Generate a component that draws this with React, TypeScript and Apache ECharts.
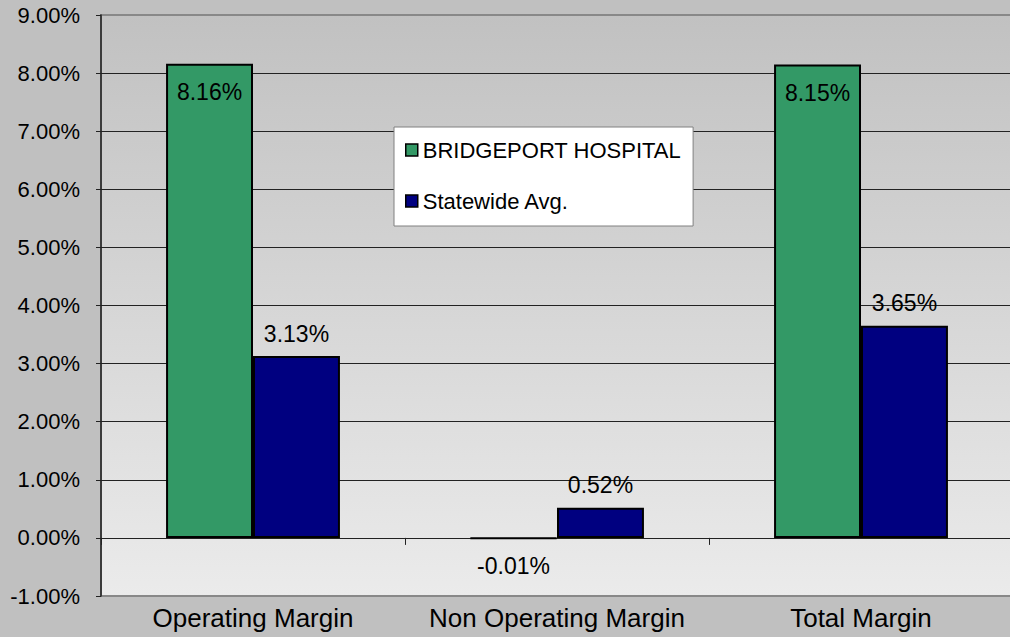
import React, { useEffect, useRef } from "react";
import * as echarts from "echarts";

const categories = ["Operating Margin", "Non Operating Margin", "Total Margin"];
const hospitalValues = [8.16, -0.01, 8.15];
const statewideValues = [3.13, 0.52, 3.65];
const seriesNames = ["BRIDGEPORT HOSPITAL", "Statewide Avg."];
const yMin = -1;
const yMax = 9;
const yInterval = 1;

const FONT = "'Liberation Sans', Arial, sans-serif";

const fmt = (v: number) => v.toFixed(2) + "%";

export default function App() {
  const ref = useRef<HTMLDivElement>(null);

  useEffect(() => {
    if (!ref.current) return;
    const chart = echarts.init(ref.current, undefined, { renderer: "svg" });

    const lineCount = Math.round((yMax - yMin) / yInterval) + 1;
    const splitColors = Array.from({ length: lineCount }, (_, i) =>
      i === 0 || i === lineCount - 1 ? "#888888" : "#222222"
    );

    const hospitalData = hospitalValues.map((v) => ({
      value: v,
      label:
        v < 0
          ? { position: "bottom", distance: 15 }
          : { position: "insideTop", distance: 17 },
    }));

    const option: any = {
      animation: false,
      backgroundColor: "#c0c0c0",
      textStyle: { fontFamily: FONT },
      grid: {
        left: 101,
        top: 15,
        right: -3,
        bottom: 41,
        containLabel: false,
        outerBoundsMode: "none",
        show: true,
        borderColor: "#888888",
        borderWidth: 2,
        backgroundColor: new echarts.graphic.LinearGradient(0, 0, 0, 1, [
          { offset: 0, color: "#c1c1c1" },
          { offset: 1, color: "#ebebeb" },
        ]),
      },
      legend: {
        orient: "vertical",
        left: 394,
        top: 127,
        itemWidth: 12,
        itemHeight: 12,
        itemGap: 29,
        padding: [12, 12, 14, 11],
        backgroundColor: "#ffffff",
        borderColor: "#808080",
        borderWidth: 1,
        icon: "rect",
        itemStyle: { borderColor: "#000", borderWidth: 1.5 },
        textStyle: { fontSize: 22, color: "#000", fontFamily: FONT },
        data: seriesNames,
      },
      xAxis: {
        type: "category",
        data: categories,
        axisLine: { show: true, onZero: true, lineStyle: { color: "#222", width: 1 } },
        axisTick: { show: true, length: 7, lineStyle: { color: "#222" } },
        axisLabel: {
          interval: 0,
          margin: 9,
          fontSize: 26,
          color: "#000",
          fontFamily: FONT,
        },
      },
      yAxis: {
        type: "value",
        min: yMin,
        max: yMax,
        interval: yInterval,
        axisLine: { show: true, lineStyle: { color: "#222", width: 1.5 } },
        axisTick: { show: true, length: 5, lineStyle: { color: "#222" } },
        axisLabel: {
          formatter: (v: number) => fmt(v),
          fontSize: 22,
          color: "#000",
          margin: 21,
          fontFamily: FONT,
        },
        splitLine: { show: true, lineStyle: { color: splitColors, width: 1 } },
      },
      series: [
        {
          name: seriesNames[0],
          type: "bar",
          data: hospitalData,
          barGap: "0%",
          barCategoryGap: "42.8%",
          itemStyle: { color: "#339966", borderColor: "#000", borderWidth: 2 },
          label: {
            show: true,
            formatter: (p: any) => fmt(p.value),
            fontSize: 23,
            color: "#000",
            fontFamily: FONT,
          },
        },
        {
          name: seriesNames[1],
          type: "bar",
          data: statewideValues,
          barGap: "0%",
          barCategoryGap: "42.8%",
          itemStyle: { color: "#000080", borderColor: "#000", borderWidth: 2 },
          label: {
            show: true,
            position: "top",
            distance: 11,
            formatter: (p: any) => fmt(p.value),
            fontSize: 23,
            color: "#000",
            fontFamily: FONT,
          },
        },
      ],
    };

    chart.setOption(option);
    return () => chart.dispose();
  }, []);

  return (
    <div
      ref={ref}
      style={{ position: "absolute", left: 0, top: 0, width: 1010, height: 637 }}
    />
  );
}
